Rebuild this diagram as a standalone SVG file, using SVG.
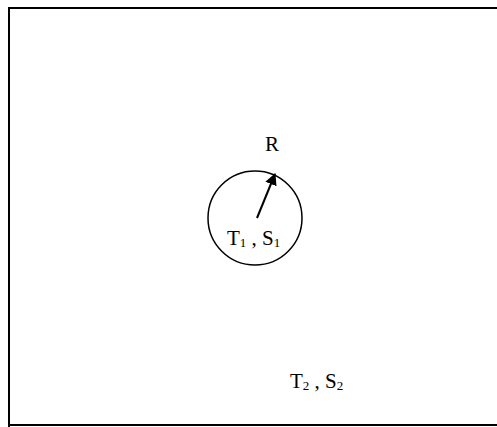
<svg xmlns="http://www.w3.org/2000/svg" width="497" height="427" viewBox="0 0 497 427">
<defs>
<style>
.lbl{font-family:"Liberation Serif","Times New Roman",serif;font-size:21px;fill:#000}
.sub{font-size:13px}
.frame{stroke:#000;stroke-width:2;fill:none}
</style>
<marker id="ah" viewBox="0 0 10 10" refX="9" refY="5" markerWidth="6" markerHeight="6" orient="auto" markerUnits="strokeWidth">
<path d="M0,0 L10,5 L0,10 z" fill="#000"/>
</marker>
</defs>
<rect width="497" height="427" fill="#fff"/>
<path class="frame" d="M9,427 V8 H497 M8,425 H497"/>
<g id="circle1">
<circle cx="255" cy="218" r="47" fill="none" stroke="#000" stroke-width="1.5"/>
<text class="lbl" x="227" y="245">T<tspan class="sub" dy="2">1</tspan><tspan dy="-2" xml:space="preserve"> , S</tspan><tspan class="sub" dy="2">1</tspan></text>
</g>
<g id="labelR">
<text class="lbl" x="265" y="151">R</text>
</g>
<g id="outside">
<text class="lbl" x="290" y="388">T<tspan class="sub" dy="2">2</tspan><tspan dy="-2" xml:space="preserve"> , S</tspan><tspan class="sub" dy="2">2</tspan></text>
</g>
<g id="connectors">
<line x1="257" y1="218" x2="275" y2="174" stroke="#000" stroke-width="2" marker-end="url(#ah)"/>
</g>
</svg>
